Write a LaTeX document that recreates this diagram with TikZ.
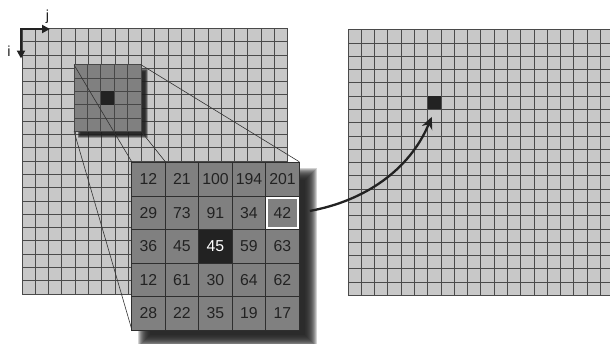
\documentclass[tikz,border=0pt]{standalone}
\usepackage{fontspec}
\setmainfont{Liberation Sans}
\usetikzlibrary{arrows.meta}
\definecolor{lightcell}{HTML}{C8C8C8}
\definecolor{midcell}{HTML}{808080}
\definecolor{darkcell}{HTML}{222222}
\definecolor{gridc}{HTML}{4A4A4A}
\definecolor{inkc}{HTML}{222222}
\begin{document}
\begin{tikzpicture}[x=1pt,y=-1pt,
  gridline/.style={draw=gridc, line width=0.7pt},
  patchline/.style={draw=black!72, line width=0.7pt},
  patchbox/.style={draw=black!72, line width=0.7pt, fill=midcell, minimum width=67pt, minimum height=66.5pt, inner sep=0pt, outer sep=0pt},
  blackcell/.style={fill=darkcell, inner sep=0pt, outer sep=0pt},
  zcell/.style={draw=black!82, line width=0.9pt, fill=midcell, minimum width=33.5pt, minimum height=33.5pt, inner sep=0pt, outer sep=0pt, text=inkc, font=\fontsize{15.8}{18}\selectfont},
  cell-3-3/.style={fill=darkcell, text=white},
  zoomline/.style={draw=black!80, line width=0.6pt},
  shadowc/.style={fill=black!88},
  arrowc/.style={draw=inkc, line width=2.3pt, -{Stealth[length=12pt, width=11pt]}},
  axisline/.style={draw=inkc, line width=2.3pt, line join=miter, {Triangle[length=8pt, width=8pt]}-{Triangle[length=8pt, width=8pt]}},
  lbl/.style={inner sep=0pt, text=inkc, font=\fontsize{14.5}{16}\selectfont}]
\useasboundingbox (0,0) rectangle (610,343);

% left image grid
\fill[lightcell] (22,28.3) rectangle (287.6,293.9);
\foreach \k in {0,...,20}{
  \draw[gridline] ({22+\k*13.28},28.3) -- ({22+\k*13.28},293.9);
  \draw[gridline] (22,{28.3+\k*13.28}) -- (287.6,{28.3+\k*13.28});
}

% right image grid
\fill[lightcell] (348,29.7) rectangle (613.6,295.3);
\foreach \k in {0,...,20}{
  \draw[gridline] ({348+\k*13.28},29.7) -- ({348+\k*13.28},295.3);
  \draw[gridline] (348,{29.7+\k*13.28}) -- (613.6,{29.7+\k*13.28});
}
\node[blackcell, minimum size=13.28pt] (target) at (434.32,102.74) {};

% patch in left image
\foreach \d in {-1.5,-1,...,1.5}
  \fill[shadowc, opacity=0.3] ({79+\d},{70+\d}) rectangle ({146-\d},{136-\d});
\node[patchbox] (patch) at (107.5,98) {};
\foreach \k in {1,...,4}{
  \draw[patchline] ({74+\k*13.4},64.75) -- ({74+\k*13.4},131.25);
  \draw[patchline] (74,{64.75+\k*13.3}) -- (141,{64.75+\k*13.3});
}
\node[blackcell, minimum width=13.4pt, minimum height=13.3pt] (pcenter) at (107.5,98) {};

% zoom grid corners
\coordinate (zNW) at (131.7,161.7);
\coordinate (zNE) at (299.2,161.7);
\coordinate (zSW) at (131.7,329.2);
\coordinate (zSE) at (299.2,329.2);

% projection lines
\draw[zoomline] (patch.north west) -- (zNW);
\draw[zoomline] (patch.north east) -- (zNE);
\draw[zoomline] (patch.south west) -- (zSW);
\draw[zoomline] (patch.south east) -- (zSE);

% zoom shadow (soft)
\foreach \d in {-6,-5,...,6}
  \fill[shadowc, opacity=0.2] ({143.7+\d},{173.7+\d}) rectangle ({311.2-\d},{341.2-\d});

% zoom cells
\foreach \r/\vals in {1/{12,21,100,194,201}, 2/{29,73,91,34,42}, 3/{36,45,45,59,63}, 4/{12,61,30,64,62}, 5/{28,22,35,19,17}}{
  \foreach \v [count=\c] in \vals {
    \node[zcell, cell-\r-\c/.try] (z-\r-\c) at ({131.7+33.5*(\c-0.5)},{161.7+33.5*(\r-0.5)+1}) {\v};
  }
}
\draw[white, line width=2pt] ([shift={(1.2,1.5)}]z-2-5.north west) rectangle ([shift={(-1.2,-1.5)}]z-2-5.south east);

% arrow to output pixel
\coordinate (a0) at ([shift={(10.5,-2)}]z-2-5.east);
\coordinate (a1) at ([shift={(-2.6,7.5)}]target.south);
\draw[arrowc] (a0) .. controls +(55,-10) and +(-22,53) .. (a1);

% axes
\coordinate (o) at (21,29);
\coordinate (jend) at (50,29);
\coordinate (iend) at (21,58.5);
\draw[axisline] (jend) -- (o) -- (iend);
\node[lbl] (jlab) at (47.5,16.5) {j};
\node[lbl] (ilab) at (9,51.3) {i};
\end{tikzpicture}
\end{document}
